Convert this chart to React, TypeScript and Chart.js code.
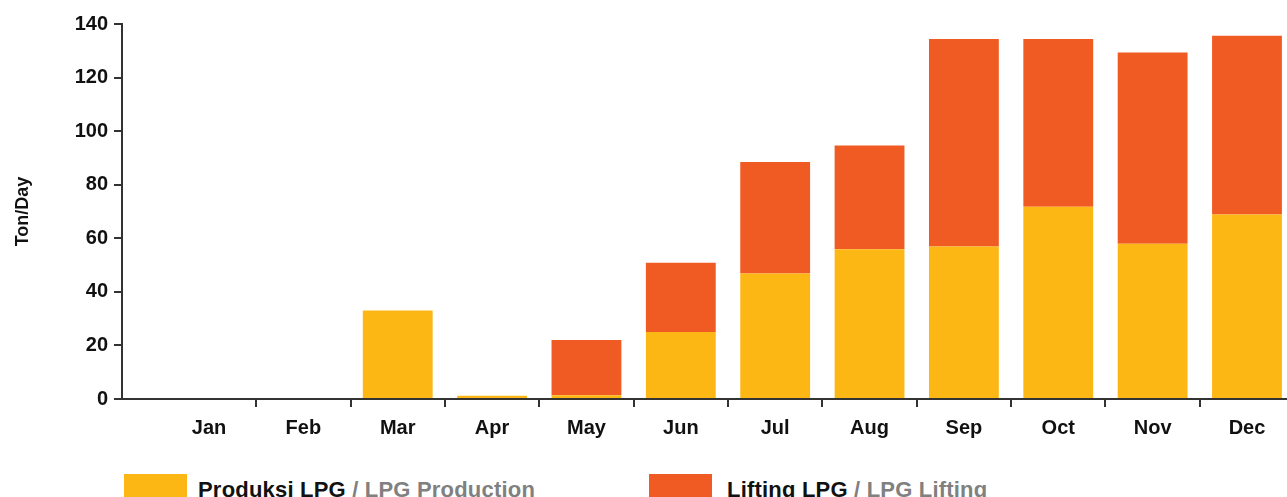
import React, { useEffect, useRef } from "react";
import { Chart, registerables } from "chart.js";

Chart.register(...registerables);

const months = ["Jan", "Feb", "Mar", "Apr", "May", "Jun", "Jul", "Aug", "Sep", "Oct", "Nov", "Dec"];
const monthIndex = [1, 2, 3, 4, 5, 6, 7, 8, 9, 10, 11, 12];
const production = [0, 0, 33.0, 1.2, 1.4, 25.0, 46.9, 55.9, 56.9, 71.8, 58.0, 68.9];
const lifting = [0, 0, 0, 0, 20.6, 25.9, 41.6, 38.7, 77.5, 62.6, 71.4, 66.7];
const yTicks = [0, 20, 40, 60, 80, 100, 120, 140];

const YELLOW = "#FDB714";
const ORANGE = "#F05A23";
const FONT = "'Liberation Sans', Arial, sans-serif";
const AXIS = "#333333";

export default function App() {
  const ref = useRef<HTMLCanvasElement | null>(null);

  useEffect(() => {
    if (!ref.current) return;
    const chart = new Chart(ref.current, {
      type: "bar",
      data: {
        datasets: [
          {
            label: "Produksi LPG / LPG Production",
            data: monthIndex.map((x, i) => ({ x, y: production[i] })),
            backgroundColor: YELLOW,
            borderWidth: 0,
            categoryPercentage: 1,
            barPercentage: 0.74,
          },
          {
            label: "Lifting LPG / LPG Lifting",
            data: monthIndex.map((x, i) => ({ x, y: lifting[i] })),
            backgroundColor: ORANGE,
            borderWidth: 0,
            categoryPercentage: 1,
            barPercentage: 0.74,
          },
        ],
      },
      options: {
        animation: false,
        responsive: true,
        maintainAspectRatio: false,
        layout: { padding: { top: 24, left: 0, right: 0, bottom: 13 } },
        plugins: { legend: { display: false }, tooltip: { enabled: false } },
        scales: {
          x: {
            type: "linear",
            stacked: true,
            offset: false,
            bounds: "data",
            min: 0.078,
            max: 12.424,
            afterBuildTicks: (s: any) => {
              s.ticks = monthIndex.map((v) => ({ value: v }));
            },
            afterFit: (s: any) => {
              s.height = 50;
            },
            border: { display: true, color: AXIS, width: 2 },
            grid: {
              offset: true,
              drawOnChartArea: false,
              drawTicks: true,
              tickLength: 8,
              lineWidth: 2,
              color: (ctx: any) => (ctx.index === 0 ? "rgba(0,0,0,0)" : AXIS),
            },
            ticks: {
              autoSkip: false,
              maxRotation: 0,
              padding: 9,
              color: "#111111",
              font: { family: FONT, size: 20, weight: "bold" },
              callback: (v: any) => months[Math.round(Number(v)) - 1] ?? "",
            },
          },
          y: {
            stacked: true,
            min: 0,
            max: 140,
            afterFit: (s: any) => {
              s.width = 122;
            },
            afterBuildTicks: (s: any) => {
              s.ticks = yTicks.map((v) => ({ value: v }));
            },
            border: { display: true, color: AXIS, width: 2 },
            grid: {
              drawOnChartArea: false,
              drawTicks: true,
              tickLength: 8,
              lineWidth: 2,
              color: AXIS,
            },
            ticks: {
              padding: 6,
              color: "#111111",
              font: { family: FONT, size: 20, weight: "bold" },
            },
            title: {
              display: true,
              text: "Ton/Day",
              color: "#111111",
              font: { family: FONT, size: 18, weight: "bold" },
              padding: { top: 12, bottom: 0 },
            },
          },
        },
      },
    });
    return () => chart.destroy();
  }, []);

  const legendText: React.CSSProperties = {
    fontFamily: FONT,
    fontWeight: "bold",
    fontSize: 22,
    whiteSpace: "nowrap",
    lineHeight: "22px",
    letterSpacing: "0.2px",
  };

  return (
    <div style={{ position: "absolute", left: 0, top: 0, width: 1287, height: 497, overflow: "hidden", background: "#fff" }}>
      <div style={{ position: "absolute", left: 0, top: 0, width: 1287, height: 462 }}>
        <canvas ref={ref} />
      </div>
      <div style={{ position: "absolute", left: 124, top: 474, width: 63, height: 24, background: YELLOW }} />
      <div style={{ ...legendText, position: "absolute", left: 198, top: 479 }}>
        <span style={{ color: "#111111" }}>Produksi LPG</span>
        <span style={{ color: "#808080" }}> / LPG Production</span>
      </div>
      <div style={{ position: "absolute", left: 649, top: 474, width: 63, height: 24, background: ORANGE }} />
      <div style={{ ...legendText, position: "absolute", left: 727, top: 479 }}>
        <span style={{ color: "#111111" }}>Lifting LPG</span>
        <span style={{ color: "#808080" }}> / LPG Lifting</span>
      </div>
    </div>
  );
}
